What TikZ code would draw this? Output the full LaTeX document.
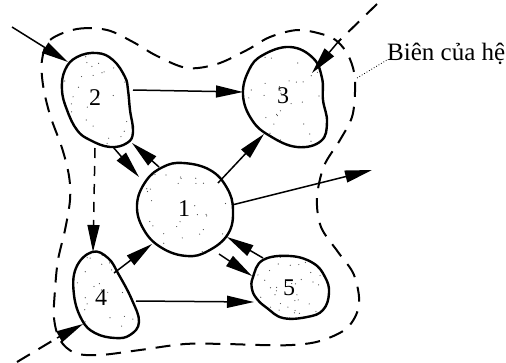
\documentclass[tikz,border=0pt]{standalone}
\usepackage{fontspec}
\setmainfont{Liberation Serif}
\usetikzlibrary{arrows.meta}
\tikzset{
  blob/.style={draw=black, line width=2.4pt},
  conn/.style={line width=1.5pt, -{Triangle[length=27pt,width=12pt]}},
  dconn/.style={line width=1.5pt, dash pattern=on 10pt off 8pt, -{Triangle[length=27pt,width=12pt]}},
  bound/.style={line width=2pt, dash pattern=on 15pt off 10pt},
  lab/.style={font=\fontsize{24}{28}\selectfont, inner sep=0pt},
  stip/.style={fill=black!70},
}
\begin{document}
\begin{tikzpicture}[x=1pt,y=-1pt]
\useasboundingbox (0,0) rectangle (506,362);
\pgfmathsetseed{7}
% blob outlines (saved)
\path[save path=\pTwo] plot[smooth cycle, tension=0.7] coordinates {(97,53) (113,60) (125,77) (128,90) (130,110) (133,132) (127,143) (110,147) (90,140) (77,130) (67,110) (62,90) (65,70) (77,57)};
\path[save path=\pThree] plot[smooth cycle, tension=0.7] coordinates {(290,47) (313,58) (322,78) (323,100) (327,122) (321,141) (297,147) (270,136) (252,120) (243,95) (249,70) (263,55)};
\path[save path=\pOne] plot[smooth cycle, tension=0.7] coordinates {(183,163) (210,170) (227,188) (233,210) (228,234) (208,251) (187,256) (162,248) (144,230) (137,205) (146,181) (163,167)};
\path[save path=\pFour] plot[smooth cycle, tension=0.7] coordinates {(92,252) (108,258) (119,275) (132,300) (139,322) (130,335) (115,338) (95,333) (82,320) (74,295) (76,268)};
\path[save path=\pFive] plot[smooth cycle, tension=0.7] coordinates {(253,277) (263,260) (290,256) (313,263) (325,277) (329,293) (323,310) (307,317) (283,318) (267,308) (257,299) (252,289)};
% stipple
\begin{scope}\clip[use path=\pTwo];
\foreach \i in {1,...,35} \fill[stip] ({62+71*rnd},{52+95*rnd}) circle (0.6pt);
\end{scope}
\begin{scope}\clip[use path=\pThree];
\foreach \i in {1,...,40} \fill[stip] ({242+85*rnd},{47+100*rnd}) circle (0.6pt);
\end{scope}
\begin{scope}\clip[use path=\pOne];
\foreach \i in {1,...,35} \fill[stip] ({137+96*rnd},{163+93*rnd}) circle (0.6pt);
\end{scope}
\begin{scope}\clip[use path=\pFour];
\foreach \i in {1,...,40} \fill[stip] ({74+66*rnd},{252+86*rnd}) circle (0.6pt);
\end{scope}
\begin{scope}\clip[use path=\pFive];
\foreach \i in {1,...,40} \fill[stip] ({252+77*rnd},{256+62*rnd}) circle (0.6pt);
\end{scope}
\draw[blob, use path=\pTwo];
\draw[blob, use path=\pThree];
\draw[blob, use path=\pOne];
\draw[blob, use path=\pFour];
\draw[blob, use path=\pFive];
% labels
\node[lab] (n2) at (95,98) {2};
\node[lab] (n3) at (283,96) {3};
\node[lab] (n1) at (184,209) {1};
\node[lab] (n4) at (101,298) {4};
\node[lab] (n5) at (289,288) {5};
% system boundary
\draw[bound] plot[smooth cycle, tension=0.55] coordinates {(50,40) (77,29) (107,30) (133,42) (157,56) (187,68) (217,64) (247,50) (270,37) (298,30) (325,35) (338,42) (348,55) (354,72) (355,92) (352,117) (340,140) (324,166) (317,198) (321,227) (338,252) (354,275) (359,305) (347,328) (320,341) (292,345) (260,345) (225,344) (185,344) (140,350) (100,355) (75,353) (60,340) (54,318) (55,290) (58,260) (65,230) (70,200) (69,176) (62,148) (50,115) (43,85) (42,60)};
% connector end points
\coordinate (in2s) at (12,27);   \coordinate (in2e) at (68,62);
\coordinate (a23s) at (133,90);  \coordinate (a23e) at (243,92);
\coordinate (a21s) at (113,147); \coordinate (a21e) at (139,177);
\coordinate (a12s) at (159,167); \coordinate (a12e) at (132,143);
\coordinate (a13s) at (218,183); \coordinate (a13e) at (264,134);
\coordinate (a24s) at (95,148);  \coordinate (a24e) at (93,252);
\coordinate (a41s) at (114,273); \coordinate (a41e) at (152,244);
\coordinate (a45s) at (136,301); \coordinate (a45e) at (254,302);
\coordinate (a15s) at (219,254); \coordinate (a15e) at (252,276);
\coordinate (a51s) at (263,258); \coordinate (a51e) at (227,237);
\coordinate (a1os) at (232,205); \coordinate (a1oe) at (372,170);
\coordinate (in3t) at (377,4);   \coordinate (in3s) at (338,42);  \coordinate (in3e) at (312,73);
\coordinate (in4t) at (17,362);  \coordinate (in4s) at (57,338);  \coordinate (in4e) at (83,324);
% connectors
\draw[conn] (in2s) -- (in2e);
\draw[conn] (a23s) -- (a23e);
\draw[conn] (a21s) -- (a21e);
\draw[conn] (a12s) -- (a12e);
\draw[conn] (a13s) -- (a13e);
\draw[dconn] (a24s) -- (a24e);
\draw[conn] (a41s) -- (a41e);
\draw[conn] (a45s) -- (a45e);
\draw[conn] (a15s) -- (a15e);
\draw[conn] (a51s) -- (a51e);
\draw[conn] (a1os) -- (a1oe);
\draw[bound] (in3t) -- (in3s);
\draw[conn] (in3s) -- (in3e);
\draw[bound] (in4t) -- (in4s);
\draw[conn] (in4s) -- (in4e);
% boundary label
\node[anchor=base west, inner sep=0pt, font=\fontsize{25}{30}\selectfont] (lbl) at (387,60) {Biên của hệ};
\coordinate (ldr) at (357,78);
\draw[dotted, line width=0.8pt] (ldr) -- (lbl.base west);
\end{tikzpicture}
\end{document}
